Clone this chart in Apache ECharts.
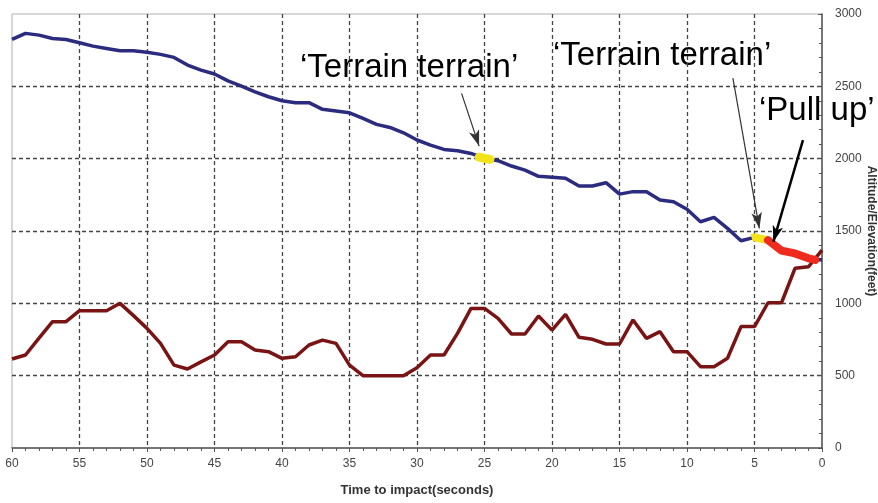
<!DOCTYPE html>
<html>
<head>
<meta charset="utf-8">
<script src="https://cdn.jsdelivr.net/npm/echarts@6/dist/echarts.min.js"></script>
<style>
  html, body { margin: 0; padding: 0; background: #fff; }
  #chart { width: 878px; height: 503px; }
</style>
</head>
<body>
<div id="chart"></div>
<script>
  // seconds before impact, 60 -> 0
  var times = [60, 59, 58, 57, 56, 55, 54, 53, 52, 51, 50, 49, 48, 47, 46, 45, 44, 43, 42, 41,
    40, 39, 38, 37, 36, 35, 34, 33, 32, 31, 30, 29, 28, 27, 26, 25, 24, 23, 22, 21,
    20, 19, 18, 17, 16, 15, 14, 13, 12, 11, 10, 9, 8, 7, 6, 5, 4, 3, 2, 1, 0];

  var altitude = [2824, 2866, 2854, 2831, 2824, 2801, 2778, 2762, 2746, 2746, 2735, 2721, 2700, 2647, 2612, 2585, 2538, 2502, 2462, 2428,
    2400, 2387, 2387, 2341, 2329, 2317, 2278, 2237, 2216, 2179, 2129, 2094, 2064, 2055, 2036, 2002, 1986, 1949, 1921, 1878,
    1872, 1864, 1811, 1811, 1834, 1755, 1772, 1772, 1714, 1702, 1650, 1564, 1594, 1518, 1433, 1456, 1437, 1364, 1345, 1311, 1300];

  var elevation = [615, 643, 760, 873, 873, 949, 949, 949, 1000, 915, 827, 723, 573, 546, 595, 643, 735, 735, 677, 666,
    620, 631, 712, 746, 723, 573, 500, 500, 500, 500, 555, 643, 643, 792, 965, 965, 896, 788, 788, 912,
    815, 924, 765, 751, 719, 719, 885, 758, 804, 666, 666, 562, 562, 620, 839, 839, 1004, 1004, 1242, 1253, 1368];

  // warning segments drawn over the altitude trace
  var warn1Time = [25.4, 25.0, 24.6];
  var warn1Alt = [2010, 2002, 1995];
  var warn2Time = [5.2, 5, 4];
  var warn2Alt = [1450, 1456, 1437];
  var pullTime = [4, 3, 2, 1, 0.5];
  var pullAlt = [1437, 1364, 1345, 1311, 1300];

  function pairs(xs, ys) {
    var out = [];
    for (var i = 0; i < xs.length; i++) out.push([xs[i], ys[i]]);
    return out;
  }

  var chart = echarts.init(document.getElementById('chart'));
  var font = '"Liberation Sans", Arial, sans-serif';
  var bigFont = '33px "Liberation Sans", Arial, sans-serif';

  chart.setOption({
    animation: false,
    backgroundColor: '#fff',
    grid: {
      left: 12,
      right: 56,
      top: 14,
      bottom: 55,
      outerBoundsMode: 'none',
      containLabel: false,
      show: true,
      borderColor: '#b0b0b0',
      borderWidth: 1
    },
    xAxis: {
      type: 'value',
      inverse: true,
      min: 0,
      max: 60,
      interval: 5,
      name: 'Time to impact(seconds)',
      nameLocation: 'middle',
      nameGap: 36,
      nameTextStyle: { fontFamily: font, fontSize: 13, fontWeight: 'bold', color: '#333' },
      axisLine: { lineStyle: { color: '#555', width: 1.5 } },
      axisTick: { show: true, length: 4, lineStyle: { color: '#555' } },
      minorTick: { show: true, splitNumber: 5, length: 3, lineStyle: { color: '#555' } },
      axisLabel: { fontFamily: font, fontSize: 12, color: '#444', margin: 10 },
      splitLine: {
        show: true,
        showMinLine: false,
        showMaxLine: false,
        lineStyle: { color: '#444', type: [4, 3], width: 1.3 }
      }
    },
    yAxis: {
      type: 'value',
      position: 'right',
      min: 0,
      max: 3000,
      interval: 500,
      axisLine: { show: true, lineStyle: { color: '#555', width: 1.5 } },
      axisTick: { show: true, inside: true, length: 4, lineStyle: { color: '#555' } },
      minorTick: { show: true, splitNumber: 5, length: 3, lineStyle: { color: '#555' } },
      axisLabel: {
        fontFamily: font, fontSize: 12, color: '#444', margin: 13,
        formatter: function(v) { return String(v); }
      },
      splitLine: {
        show: true,
        showMinLine: false,
        showMaxLine: false,
        lineStyle: { color: '#444', type: [4, 3], width: 1.3 }
      }
    },
    series: [
      {
        name: 'Elevation',
        type: 'line',
        data: pairs(times, elevation),
        symbol: 'none',
        lineStyle: { color: '#7a1414', width: 3.5 },
        z: 3
      },
      {
        name: 'Altitude',
        type: 'line',
        data: pairs(times, altitude),
        symbol: 'none',
        lineStyle: { color: '#2b2b80', width: 3.5 },
        z: 2,
        markLine: {
          silent: true,
          symbol: ['none', 'arrow'],
          label: { show: false },
          data: [
            [{ coord: [26.7, 2451], lineStyle: { color: '#333', width: 1.2, type: 'solid' }, symbolSize: 9 },
             { coord: [25.4, 2087] }],
            [{ coord: [6.6, 2557], lineStyle: { color: '#333', width: 1.2, type: 'solid' }, symbolSize: 9 },
             { coord: [4.64, 1518] }],
            [{ coord: [1.41, 2128], lineStyle: { color: '#000', width: 2.5, type: 'solid' }, symbolSize: 12 },
             { coord: [3.6, 1426] }]
          ]
        }
      },
      {
        type: 'line',
        data: pairs(warn1Time, warn1Alt),
        symbol: 'none',
        lineStyle: { color: '#f2e419', width: 9, cap: 'round' },
        z: 4
      },
      {
        type: 'line',
        data: pairs(warn2Time, warn2Alt),
        symbol: 'none',
        lineStyle: { color: '#f2e419', width: 8 },
        z: 4
      },
      {
        type: 'line',
        data: pairs(pullTime, pullAlt),
        symbol: 'none',
        lineStyle: { color: '#ee2b1e', width: 8, cap: 'round' },
        z: 4
      }
    ],
    graphic: [
      {
        type: 'text', left: 300, top: 51,
        style: { text: '\u2018Terrain terrain\u2019', font: bigFont, fill: '#000' }
      },
      {
        type: 'text', left: 553, top: 39,
        style: { text: '\u2018Terrain terrain\u2019', font: bigFont, fill: '#000' }
      },
      {
        type: 'text', left: 759, top: 94,
        style: { text: '\u2018Pull up\u2019', font: bigFont, fill: '#000' }
      },
      {
        // y axis title, reads top to bottom
        type: 'text', x: 871, y: 231, rotation: -Math.PI / 2,
        style: {
          text: 'Altitude/Elevation(feet)',
          font: 'bold 12px "Liberation Sans", Arial, sans-serif',
          fill: '#333', align: 'center', verticalAlign: 'middle'
        }
      }
    ]
  });
</script>
</body>
</html>
